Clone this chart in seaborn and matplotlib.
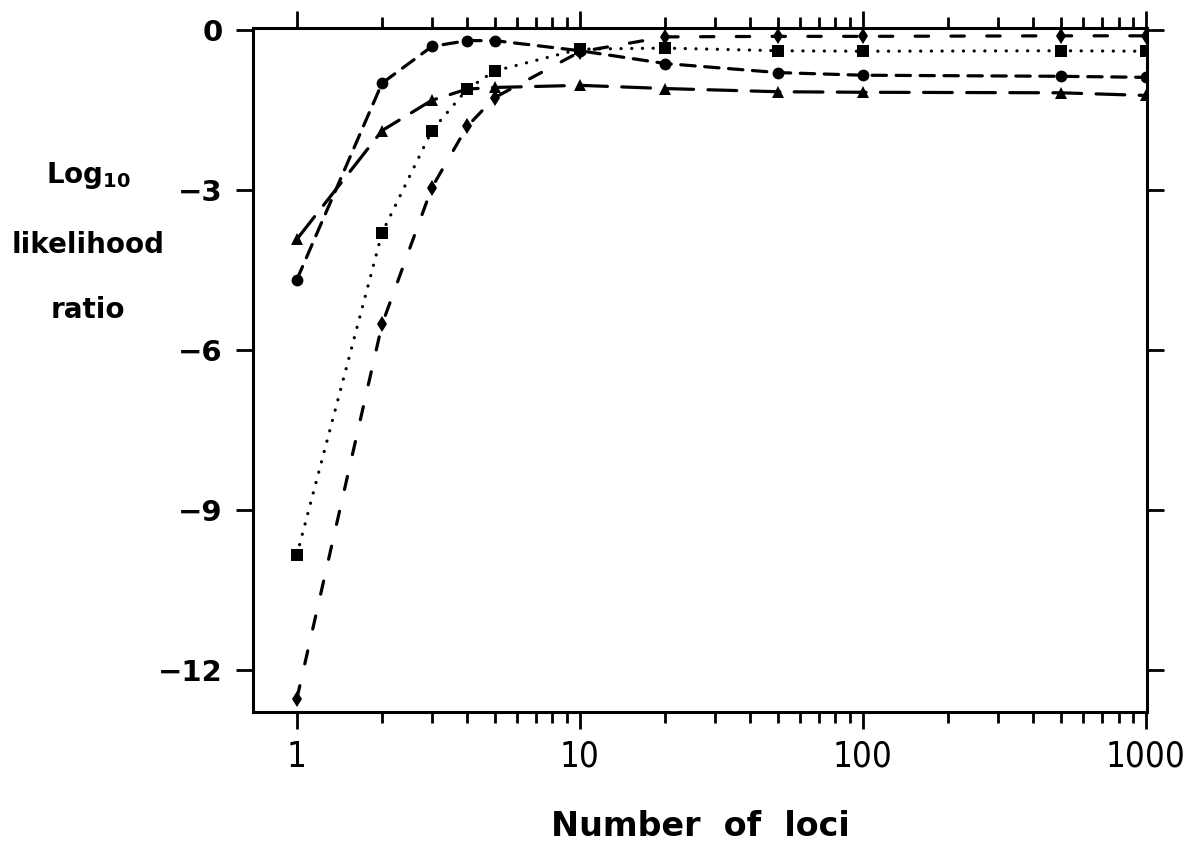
import numpy as np
import pandas as pd
import seaborn as sns
import matplotlib
matplotlib.use("Agg")
import matplotlib.pyplot as plt
from matplotlib.ticker import NullFormatter, FixedLocator

# Data
loci = [1, 2, 3, 4, 5, 10, 20, 50, 100, 500, 1000]
circle_vals = [-4.68, -0.99, -0.30, -0.19, -0.19, -0.38, -0.62, -0.79, -0.84, -0.86, -0.88]
square_vals = [-9.85, -3.80, -1.88, -1.10, -0.76, -0.35, -0.33, -0.38, -0.39, -0.38, -0.39]
diamond_vals = [-12.55, -5.52, -2.95, -1.80, -1.26, -0.40, -0.12, -0.11, -0.11, -0.10, -0.10]
triangle_vals = [-3.92, -1.88, -1.31, -1.10, -1.07, -1.03, -1.09, -1.15, -1.16, -1.17, -1.22]

series_names = ["circle", "square", "diamond", "triangle"]

df = pd.DataFrame({
    "loci": loci * 4,
    "value": circle_vals + square_vals + diamond_vals + triangle_vals,
    "series": np.repeat(series_names, len(loci)),
})

markers = {"circle": "o", "square": "s", "diamond": "d", "triangle": "^"}
dashes = {"circle": (4.5, 3.0), "square": (0.05, 3.3), "diamond": (4.2, 7), "triangle": (9, 4.5)}

sns.set_style("ticks")
plt.rcParams["font.family"] = ["DejaVu Sans"]
plt.rcParams["mathtext.default"] = "bf"
plt.rcParams["text.color"] = "black"
plt.rcParams["axes.labelcolor"] = "black"
plt.rcParams["xtick.color"] = "black"
plt.rcParams["ytick.color"] = "black"
plt.rcParams["axes.edgecolor"] = "black"

fig = plt.figure(figsize=(11.9, 8.59), dpi=100)
ax = fig.add_axes([0.2126, 0.171, 0.7514, 0.7966])

sns.lineplot(
    data=df, x="loci", y="value", style="series",
    markers=markers, dashes=dashes, color="black",
    linewidth=2.3, markersize=8.5, markeredgewidth=0,
    legend=False, ax=ax, sort=False,
)
for line in ax.get_lines():
    line.set_dash_capstyle("round")
    line.set_markerfacecolor("black")

ax.set_xscale("log")
ax.set_xlim(0.70, 1010)
ax.set_ylim(-12.8, 0.05)

minor = [m * d for d in (1, 10, 100) for m in range(2, 10)]
ax.xaxis.set_major_locator(FixedLocator([1, 10, 100, 1000]))
ax.xaxis.set_minor_locator(FixedLocator(minor))
ax.xaxis.set_minor_formatter(NullFormatter())
ax.set_xticklabels(["1", "10", "100", "1000"])
ax.set_yticks([0, -3, -6, -9, -12])
ax.set_yticklabels(["0", "\u22123", "\u22126", "\u22129", "\u221212"])

for side in ["top", "right", "bottom", "left"]:
    ax.spines[side].set_visible(True)
    ax.spines[side].set_linewidth(2.2)

ax.tick_params(which="both", direction="out", top=True, right=True, width=2.0)
ax.tick_params(which="major", length=12)
ax.tick_params(which="minor", length=8)
ax.tick_params(axis="y", labelsize=21, pad=10)
ax.tick_params(axis="x", labelsize=25, pad=8)
for lab in ax.get_yticklabels():
    lab.set_fontweight("bold")
for lab in ax.get_xticklabels():
    lab.set_fontstretch("condensed")

ax.set_xlabel("Number  of  loci", fontsize=24, fontweight="bold", labelpad=26)
ax.set_ylabel("")

fig.text(0.074, 0.796, r"Log$_{10}$", fontsize=20, fontweight="bold", ha="center", va="center")
fig.text(0.074, 0.715, "likelihood", fontsize=20, fontweight="bold", ha="center", va="center")
fig.text(0.074, 0.639, "ratio", fontsize=20, fontweight="bold", ha="center", va="center")

fig.savefig("out.png", dpi=100)
